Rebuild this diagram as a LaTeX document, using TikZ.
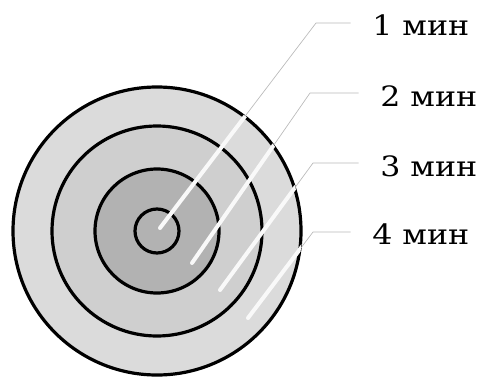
\documentclass[tikz,border=0pt]{standalone}
\usepackage{fontspec}
\setmainfont[FakeStretch=1.13]{DejaVu Serif}
\begin{document}
\begin{tikzpicture}[x=0.75pt, y=-0.75pt]
\tikzset{
  ring/.style={draw=black, line width=2.4pt},
  lbl/.style={anchor=west, inner sep=0pt, font=\fontsize{21}{25}\selectfont},
  leader/.style={draw=gray!55, line width=0.5pt, shorten >=16pt},
  beam/.style={draw=white!95!gray, line width=3pt, line cap=round}
}
\useasboundingbox (0,0) rectangle (484,378);

% target
\coordinate (o) at (157,231);
\fill[black!14] (o) circle (144);
\fill[black!19] (o) circle (105);
\fill[black!30] (o) circle (62);
\draw[ring] (o) circle (144);
\draw[ring] (o) circle (105);
\draw[ring] (o) circle (62);
\draw[ring] (o) circle (22);

% labels
\node[lbl] (t1) at (372,25) {1 мин};
\node[lbl] (t2) at (380,96) {2 мин};
\node[lbl] (t3) at (380,166) {3 мин};
\node[lbl] (t4) at (372,234) {4 мин};

% leader points
\coordinate (s1) at (160,228);
\coordinate (s2) at (192,263);
\coordinate (s3) at (220,290);
\coordinate (s4) at (248,318);
\coordinate (b1) at (316,23);
\coordinate (b2) at (310,93);
\coordinate (b3) at (313,163);
\coordinate (b4) at (313,232);

\draw[leader] (s1) -- (b1) -- (t1.west |- b1);
\draw[leader] (s2) -- (b2) -- (t2.west |- b2);
\draw[leader] (s3) -- (b3) -- (t3.west |- b3);
\draw[leader] (s4) -- (b4) -- (t4.west |- b4);

\begin{scope}
\clip (o) circle (145);
\draw[beam] (s1) -- (b1);
\draw[beam] (s2) -- (b2);
\draw[beam] (s3) -- (b3);
\draw[beam] (s4) -- (b4);
\end{scope}
\end{tikzpicture}
\end{document}
